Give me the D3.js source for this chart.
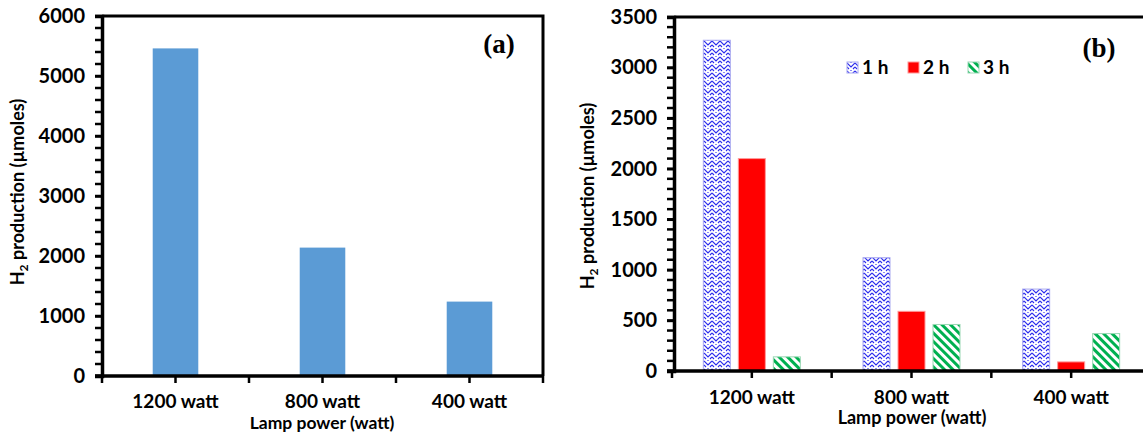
<!DOCTYPE html>
<html>
<head>
<meta charset="UTF-8">
<title>H2 production vs lamp power</title>
<style>
body { margin: 0; background: #fff; }
text { font-family: Lato, "Open Sans", sans-serif; font-weight: bold; fill: #000; }
.panel-tag { font-family: "Liberation Serif", serif; font-size: 27px; }
</style>
</head>
<body>
<div id="chart"></div>
<script src="https://d3js.org/d3.v7.min.js"></script>
<script>
// panel (a): total H2 per lamp power
var lamps = ["1200 watt", "800 watt", "400 watt"];
var totalH2 = [5460, 2140, 1240];
var yTicksA = [0, 1000, 2000, 3000, 4000, 5000, 6000];

// panel (b): per hour
var hours = ["1 h", "2 h", "3 h"];
var h1 = [3270, 1120, 810];
var h2 = [2100, 590, 90];
var h3 = [140, 460, 370];
var yTicksB = [0, 500, 1000, 1500, 2000, 2500, 3000, 3500];

var W = 1143, H = 432;
var svg = d3.select("#chart").append("svg")
    .attr("width", W).attr("height", H);

var defs = svg.append("defs");

// weave-like chevron pattern for 1 h
var weave = defs.append("pattern").attr("id", "weave")
    .attr("patternUnits", "userSpaceOnUse").attr("width", 8).attr("height", 8);
weave.append("rect").attr("width", 8).attr("height", 8).attr("fill", "#fff");
weave.append("path")
  .attr("d", "M0,1 L4,5 L8,1 M0,5 L2,7 M6,7 L8,5 M4,0 L4,1")
  .attr("fill", "none").attr("stroke", "#2a2aee").attr("stroke-width", 1.1);

// diagonal stripes for 3 h (top-left to bottom-right)
var stripes = defs.append("pattern").attr("id", "stripes")
    .attr("patternUnits", "userSpaceOnUse").attr("width", 6).attr("height", 6)
    .attr("patternTransform", "rotate(45)");
stripes.append("rect").attr("width", 6).attr("height", 6).attr("fill", "#fff");
stripes.append("rect").attr("width", 6).attr("height", 3).attr("fill", "#00b050");

var fills = { "1 h": "url(#weave)", "2 h": "#ff0000", "3 h": "url(#stripes)" };
var strokes = { "1 h": "#a8a8f0", "2 h": "#ff9a9a", "3 h": "#9ad8b4" };

function drawAxes(g, x, y, yTicks, minorStep, left, right, top, bottom, labelDy) {
  // frame
  g.append("path")
    .attr("d", "M" + left + "," + top + "H" + right + "V" + bottom)
    .attr("fill", "none").attr("stroke", "#000").attr("stroke-width", 3);

  // minor y ticks
  var ymax = yTicks[yTicks.length - 1];
  var minor = d3.range(0, ymax + 1, minorStep);
  g.selectAll(".ymin").data(minor).enter().append("line")
    .attr("x1", left - 7).attr("x2", left)
    .attr("y1", function (d) { return y(d); })
    .attr("y2", function (d) { return y(d); })
    .attr("stroke", "#000").attr("stroke-width", 2.5);

  var yAxis = d3.axisLeft(y).tickValues(yTicks).tickFormat(d3.format("d"))
    .tickSize(7).tickPadding(10);
  var ya = g.append("g").attr("transform", "translate(" + left + ",0)").call(yAxis);
  ya.select(".domain").attr("stroke-width", 3.5);
  ya.selectAll(".tick line").attr("stroke-width", 2.5);
  ya.selectAll("text").style("font-size", "20px");

  // x axis line and ticks at band edges and centers
  g.append("line").attr("x1", left - 7).attr("x2", right)
    .attr("y1", bottom).attr("y2", bottom)
    .attr("stroke", "#000").attr("stroke-width", 3.5);
  var xt = [];
  x.domain().forEach(function (c) {
    xt.push(x(c));
    xt.push(x(c) + x.bandwidth() / 2);
  });
  xt.push(x.range()[1]);
  g.selectAll(".xt").data(xt).enter().append("line")
    .attr("x1", function (d) { return d; }).attr("x2", function (d) { return d; })
    .attr("y1", bottom).attr("y2", bottom + 7)
    .attr("stroke", "#000").attr("stroke-width", 2.5);

  g.selectAll(".xl").data(x.domain()).enter().append("text")
    .attr("x", function (d) { return x(d) + x.bandwidth() / 2; })
    .attr("y", bottom + labelDy)
    .attr("text-anchor", "middle").style("font-size", "19px")
    .text(function (d) { return d; });
}

function yTitle(g, cx, cy) {
  var t = g.append("text")
    .attr("transform", "translate(" + cx + "," + cy + ") rotate(-90)")
    .attr("text-anchor", "middle").style("font-size", "18px");
  t.append("tspan").text("H");
  t.append("tspan").attr("dy", 4).style("font-size", "12px").text("2");
  t.append("tspan").attr("dy", -4).text(" production (\u00b5moles)");
}

// ---------- panel (a)
var gA = svg.append("g");
var xA = d3.scaleBand().domain(lamps).range([102, 543]);
var yA = d3.scaleLinear().domain([0, 6000]).range([376, 16]);

var barWA = xA.bandwidth() * 0.31;
gA.selectAll(".barA").data(lamps).enter().append("rect")
  .attr("x", function (d) { return xA(d) + (xA.bandwidth() - barWA) / 2; })
  .attr("y", function (d, i) { return yA(totalH2[i]); })
  .attr("width", barWA)
  .attr("height", function (d, i) { return yA(0) - yA(totalH2[i]); })
  .attr("fill", "#5b9bd5");

drawAxes(gA, xA, yA, yTicksA, 200, 102, 543, 16, 376, 32);
yTitle(gA, 24, 192);
gA.append("text").attr("x", 322).attr("y", 429).attr("text-anchor", "middle")
  .style("font-size", "17.5px").text("Lamp power (watt)");
gA.append("text").attr("class", "panel-tag").attr("x", 499).attr("y", 53)
  .attr("text-anchor", "middle").text("(a)");

// ---------- panel (b)
var gB = svg.append("g");
var xB = d3.scaleBand().domain(lamps).range([672, 1151]);
var yB = d3.scaleLinear().domain([0, 3500]).range([371, 17]);
var inner = d3.scaleBand().domain(hours).range([0, 98]).paddingInner(0.2);
var off = (xB.bandwidth() - 98) / 2;
var seriesB = [h1, h2, h3];

hours.forEach(function (h, si) {
  gB.selectAll(".bar" + si).data(lamps).enter().append("rect")
    .attr("x", function (d) { return xB(d) + off + inner(h) + 0.5; })
    .attr("y", function (d, i) { return yB(seriesB[si][i]); })
    .attr("width", inner.bandwidth() - 1)
    .attr("height", function (d, i) { return yB(0) - yB(seriesB[si][i]); })
    .attr("fill", fills[h]).attr("stroke", strokes[h]).attr("stroke-width", 1);
});

drawAxes(gB, xB, yB, yTicksB, 100, 674, 1153, 17, 371, 33);
yTitle(gB, 594, 196);
gB.append("text").attr("x", 912).attr("y", 424).attr("text-anchor", "middle")
  .style("font-size", "18px").text("Lamp power (watt)");
gB.append("text").attr("class", "panel-tag").attr("x", 1099).attr("y", 57)
  .attr("text-anchor", "middle").text("(b)");

// legend
var legX = [847, 908, 968];
var leg = gB.selectAll(".leg").data(hours).enter().append("g")
  .attr("transform", function (d, i) { return "translate(" + legX[i] + ",62)"; });
leg.append("rect").attr("width", 11).attr("height", 11)
  .attr("fill", function (d) { return fills[d]; })
  .attr("stroke", function (d) { return strokes[d]; });
leg.append("text").attr("x", 15).attr("y", 12).style("font-size", "19px")
  .text(function (d) { return d; });
</script>
</body>
</html>
